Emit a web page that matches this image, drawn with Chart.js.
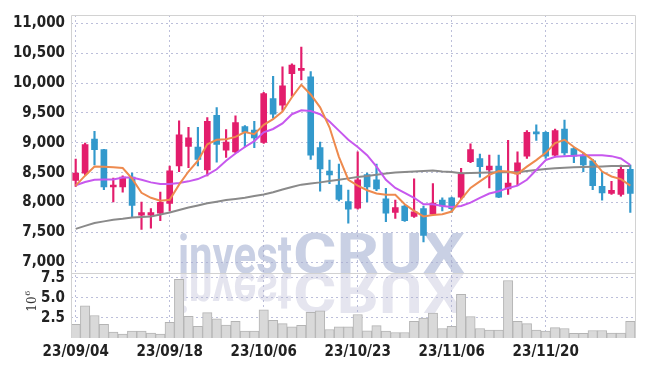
<!DOCTYPE html>
<html>
<head>
<meta charset="utf-8">
<script src="https://cdn.jsdelivr.net/npm/chart.js@4/dist/chart.umd.min.js"></script>
<style>
  html, body { margin: 0; padding: 0; background: #fff; }
</style>
</head>
<body>
<canvas id="chart" width="645" height="366"></canvas>
<script>
// trading days shown (yy/mm/dd)
const dates = [
  '23/09/04','23/09/05','23/09/06','23/09/07','23/09/08','23/09/11','23/09/12','23/09/13','23/09/14','23/09/15',
  '23/09/18','23/09/19','23/09/20','23/09/21','23/09/22','23/09/25','23/09/26','23/09/27','23/10/04','23/10/05',
  '23/10/06','23/10/10','23/10/11','23/10/12','23/10/13','23/10/16','23/10/17','23/10/18','23/10/19','23/10/20',
  '23/10/23','23/10/24','23/10/25','23/10/26','23/10/27','23/10/30','23/10/31','23/11/01','23/11/02','23/11/03',
  '23/11/06','23/11/07','23/11/08','23/11/09','23/11/10','23/11/13','23/11/14','23/11/15','23/11/16','23/11/17',
  '23/11/20','23/11/21','23/11/22','23/11/23','23/11/24','23/11/27','23/11/28','23/11/29','23/11/30','23/12/01'
];

const open = [
  8371, 8492, 9062, 8886, 8261, 8261, 8426, 7790, 7790, 7823,
  7987, 8612, 8941, 8930, 8547, 9462, 8875, 8848, 9270, 9215,
  9007, 9742, 9632, 10158, 10213, 10104, 8919, 8525, 8294, 8015,
  7905, 8470, 8382, 8064, 7834, 7943, 7768, 7899, 7806, 8042,
  8080, 8091, 8683, 8738, 8546, 8612, 8228, 8481, 8777, 9177,
  9177, 8793, 9232, 8903, 8793, 8700, 8272, 8152, 8135, 8557
];
const high = [
  8727, 8996, 9193, 8890, 8409, 8448, 8492, 8009, 7899, 8174,
  8612, 9369, 9259, 9259, 9424, 9588, 9221, 9451, 9290, 9358,
  9846, 10115, 10274, 10323, 10603, 10191, 9013, 8711, 8645, 8207,
  8848, 8492, 8645, 8239, 8042, 7955, 8398, 7943, 8316, 8080,
  8090, 8574, 8985, 8810, 8793, 8793, 9040, 8848, 9204, 9303,
  9188, 9232, 9380, 8930, 8832, 8722, 8519, 8355, 8629, 8629
];
const low = [
  8272, 8464, 8629, 8217, 8009, 8174, 7751, 7549, 7571, 7697,
  7861, 8519, 8585, 8612, 8448, 8678, 8755, 8837, 8930, 8919,
  8990, 9413, 9544, 9780, 10054, 8722, 8190, 8316, 8026, 7653,
  7890, 8009, 8201, 7680, 7735, 7686, 7751, 7340, 7790, 7861,
  7834, 8053, 8667, 8426, 8245, 8080, 8135, 8300, 8738, 9040,
  8738, 8766, 8793, 8667, 8519, 8217, 8042, 8135, 8108, 7834
];
const close = [
  8492, 8969, 8886, 8261, 8294, 8426, 7954, 7834, 7834, 8005,
  8530, 9133, 9084, 8722, 9358, 8974, 9013, 9341, 9177, 9084,
  9824, 9479, 9956, 10301, 10235, 8793, 8563, 8464, 8053, 7888,
  8382, 8261, 8228, 7823, 7916, 7697, 7845, 7450, 7993, 7943,
  7899, 8475, 8886, 8601, 8612, 8091, 8327, 8667, 9177, 9150,
  8777, 9204, 8832, 8777, 8629, 8283, 8163, 8206, 8557, 8152
];

// moving averages
const ma5 = [
  8283, 8450, 8605, 8600, 8592, 8578, 8400, 8163, 8080, 8030,
  8045, 8300, 8520, 8700, 8975, 9050, 9060, 9100, 9180, 9145,
  9300, 9396, 9523, 9763, 9972, 9810, 9595, 9260, 8766, 8382,
  8283, 8206, 8152, 8130, 8130, 7971, 7861, 7768, 7790, 7806,
  7850, 8053, 8245, 8355, 8464, 8530, 8519, 8481, 8601, 8711,
  8832, 8996, 9051, 8930, 8832, 8711, 8519, 8437, 8393, 8283
];
const ma20 = [
  8290, 8345, 8382, 8385, 8385, 8420, 8420, 8382, 8338, 8311,
  8311, 8327, 8355, 8393, 8464, 8557, 8700, 8821, 8930, 9029,
  9177, 9232, 9325, 9479, 9544, 9533, 9479, 9358, 9204, 9051,
  8930, 8793, 8601, 8382, 8245, 8163, 8080, 7971, 7971, 7943,
  7925, 7943, 7998, 8080, 8152, 8190, 8245, 8283, 8382, 8546,
  8711, 8766, 8777, 8782, 8793, 8793, 8793, 8777, 8738, 8629
];
const ma60 = [
  7560, 7610, 7658, 7685, 7713, 7730, 7751, 7760, 7768, 7800,
  7834, 7875, 7916, 7950, 7987, 8015, 8042, 8060, 8080, 8108,
  8135, 8174, 8218, 8261, 8300, 8320, 8338, 8360, 8382, 8405,
  8426, 8445, 8464, 8485, 8502, 8510, 8519, 8527, 8535, 8520,
  8510, 8492, 8495, 8500, 8505, 8508, 8508, 8508, 8530, 8546,
  8560, 8574, 8582, 8590, 8595, 8601, 8605, 8612, 8612, 8612
];

// volume, millions of shares
const volume = [
  1.7, 4.0, 2.8, 1.7, 0.73, 0.49, 0.85, 0.85, 0.61, 0.49,
  1.95, 7.3, 2.7, 1.46, 3.17, 2.4, 1.6, 2.07, 0.85, 0.85,
  3.5, 2.2, 1.8, 1.38, 1.58, 3.2, 3.38, 1.06, 1.38, 1.38,
  2.93, 0.9, 1.54, 0.85, 0.69, 0.69, 2.07, 2.48, 3.1, 1.18,
  1.46, 5.45, 2.68, 1.18, 0.98, 0.98, 7.16, 2.07, 1.79, 0.98,
  0.85, 1.3, 1.18, 0.57, 0.57, 0.94, 0.94, 0.61, 0.61, 2.07
];

const priceTicks = [7000, 7500, 8000, 8500, 9000, 9500, 10000, 10500, 11000];
const volumeTicks = [2.5, 5, 7.5];

const UP = '#e31d6c';
const DOWN = '#3399cc';
const GRID = 'rgba(165,170,205,0.75)';
const FONT = "'Liberation Sans Narrow', 'DejaVu Sans Condensed', sans-serif";

const candleColors = open.map((o, i) => close[i] >= o ? UP : DOWN);

const watermark = {
  id: 'watermark',
  beforeDraw(chart) {
    const ctx = chart.ctx;
    const base = Math.round(chart.scales.y.bottom);
    const drawText = () => {
      ctx.font = 'bold 54px Roboto, sans-serif';
      let w = ctx.measureText('invest').width;
      ctx.save();
      ctx.translate(178, base);
      ctx.scale(114 / w, 1);
      ctx.fillText('invest', 0, 0);
      ctx.restore();
      ctx.font = 'bold 55px Roboto, sans-serif';
      w = ctx.measureText('CRUX').width;
      ctx.save();
      ctx.translate(293, base);
      ctx.scale(172 / w, 1);
      ctx.fillText('CRUX', 0, 0);
      ctx.restore();
    };
    ctx.save();
    ctx.textBaseline = 'alphabetic';
    ctx.fillStyle = '#c9d0e4';
    drawText();
    // reflection
    ctx.beginPath();
    ctx.rect(0, base, 645, 50);
    ctx.clip();
    ctx.translate(0, base * 2);
    ctx.scale(1, -1);
    ctx.fillStyle = '#e5e5ef';
    drawText();
    ctx.restore();
  }
};

const frame = {
  id: 'frame',
  afterDraw(chart) {
    const {ctx, chartArea: a} = chart;
    const sep = chart.scales.y.bottom;
    ctx.save();
    ctx.strokeStyle = '#d2d2d2';
    ctx.lineWidth = 1;
    ctx.beginPath();
    ctx.moveTo(Math.round(a.left) + 0.5, a.bottom);
    ctx.lineTo(Math.round(a.left) + 0.5, Math.round(a.top) + 0.5);
    ctx.lineTo(Math.round(a.right) + 0.5, Math.round(a.top) + 0.5);
    ctx.lineTo(Math.round(a.right) + 0.5, a.bottom);
    ctx.moveTo(a.left, Math.round(sep) + 0.5);
    ctx.lineTo(a.right, Math.round(sep) + 0.5);
    ctx.stroke();

    // volume unit label
    ctx.translate(36, 302);
    ctx.rotate(-Math.PI / 2);
    ctx.fillStyle = '#333';
    ctx.font = '12px "DejaVu Serif", serif';
    ctx.textBaseline = 'alphabetic';
    ctx.textAlign = 'left';
    const w = ctx.measureText('10').width;
    ctx.fillText('10', -(w + 4) / 2, 0);
    ctx.font = '8px "DejaVu Serif", serif';
    ctx.fillText('6', -(w + 4) / 2 + w + 0.5, -6);
    ctx.restore();
  }
};

const tickFont = { family: FONT, size: 15, weight: 'bold' };

new Chart(document.getElementById('chart'), {
  type: 'bar',
  data: {
    labels: dates,
    datasets: [
      {
        type: 'line', label: 'MA5', data: ma5, yAxisID: 'y',
        borderColor: '#ee8a4e', borderWidth: 2, pointRadius: 0, tension: 0, order: 0
      },
      {
        type: 'line', label: 'MA20', data: ma20, yAxisID: 'y',
        borderColor: '#c758ee', borderWidth: 2, pointRadius: 0, tension: 0, order: 1
      },
      {
        type: 'line', label: 'MA60', data: ma60, yAxisID: 'y',
        borderColor: '#8a8a8a', borderWidth: 2, pointRadius: 0, tension: 0, order: 2
      },
      {
        label: 'body', data: open.map((o, i) => [o, close[i]]), yAxisID: 'y',
        backgroundColor: candleColors, barThickness: 6, minBarLength: 2,
        grouped: false, order: 3
      },
      {
        label: 'wick', data: low.map((l, i) => [l, high[i]]), yAxisID: 'y',
        backgroundColor: candleColors, barThickness: 1.5,
        grouped: false, order: 4
      },
      {
        label: 'volume', data: volume, yAxisID: 'y2',
        backgroundColor: '#d9d9d9', borderColor: '#b4b4b4', borderWidth: 1,
        barPercentage: 1, categoryPercentage: 1, grouped: false, order: 5
      }
    ]
  },
  options: {
    responsive: false,
    animation: false,
    events: [],
    layout: { padding: { top: 9, right: 10, left: 0, bottom: 0 } },
    plugins: { legend: { display: false }, tooltip: { enabled: false } },
    scales: {
      x: {
        type: 'category',
        offset: true,
        grid: {
          offset: false, drawTicks: false, lineWidth: 1,
          color: c => c.index % 10 === 0 ? GRID : 'rgba(0,0,0,0)'
        },
        border: { display: false, dash: [2, 3] },
        ticks: {
          autoSkip: false, maxRotation: 0, padding: 5, color: '#222',
          font: tickFont,
          callback: (v, i) => i % 10 === 0 ? dates[i] : ''
        },
        afterFit: s => { s.height = 28; }
      },
      y2: {
        position: 'left', stack: 'panes', stackWeight: 1,
        min: 0, max: 8.05,
        grid: { color: GRID, drawTicks: false },
        border: { display: false, dash: [2, 3] },
        ticks: {
          autoSkip: false, padding: 6, color: '#222', font: tickFont,
          callback: v => v.toFixed(1)
        },
        afterBuildTicks: s => { s.ticks = volumeTicks.map(v => ({ value: v })); },
        afterFit: s => { s.width = 71; }
      },
      y: {
        position: 'left', stack: 'panes', stackWeight: 4,
        min: 6814, max: 11140,
        grid: { color: GRID, drawTicks: false },
        border: { display: false, dash: [2, 3] },
        ticks: {
          autoSkip: false, padding: 6, color: '#222', font: tickFont,
          callback: v => v.toLocaleString('en-US')
        },
        afterBuildTicks: s => { s.ticks = priceTicks.map(v => ({ value: v })); },
        afterFit: s => { s.width = 71; }
      }
    }
  },
  plugins: [watermark, frame]
});
</script>
</body>
</html>
